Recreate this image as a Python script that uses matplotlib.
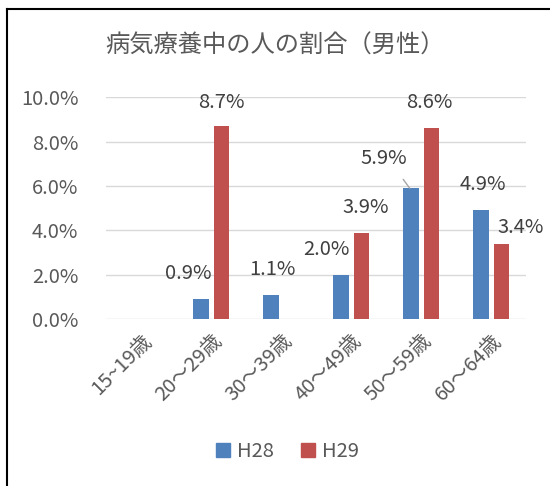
import matplotlib
matplotlib.use('Agg')
import matplotlib.pyplot as plt
import numpy as np
from matplotlib.lines import Line2D

plt.rcParams['font.family'] = ['Noto Sans CJK JP', 'DejaVu Sans']

title = '病気療養中の人の割合（男性）'
categories = ['15~19歳', '20～29歳', '30～39歳', '40～49歳', '50～59歳', '60～64歳']
h28 = [np.nan, 0.9, 1.1, 2.0, 5.9, 4.9]
h29 = [np.nan, 8.7, np.nan, 3.9, 8.6, 3.4]
series_names = ['H28', 'H29']
colors = ['#4F81BD', '#C0504D']

# label offsets (pixels) from each bar top, as Excel placed them
label_offsets = {
    ('H28', 1): (-13, 26), ('H28', 2): (1, 25), ('H28', 3): (-15, 25),
    ('H28', 4): (-26, 30), ('H28', 5): (2, 26),
    ('H29', 1): (0, 24), ('H29', 3): (4, 25), ('H29', 4): (-2, 26),
    ('H29', 5): (19, 16),
}

text_color = '#595959'
grid_color = '#D9D9D9'
fs = 14.5

fig = plt.figure(figsize=(5.5, 4.86), dpi=100)
ax = fig.add_axes([0.193, 0.343, 0.764, 0.457])

x = np.arange(len(categories))
w = 0.22
off = 0.145
for name, vals, c, sign in zip(series_names, [h28, h29], colors, [-1, 1]):
    bars = ax.bar(x + sign * off, vals, width=w, color=c, zorder=3)
    for i, v in enumerate(vals):
        if np.isnan(v):
            continue
        dx, dy = label_offsets[(name, i)]
        if (name, i) == ('H28', 4):
            ax.annotate(f'{v:.1f}%', xy=(x[i] + sign * off - 0.02, v),
                        xytext=(dx, dy), textcoords='offset pixels',
                        ha='center', va='center', fontsize=fs, color='#404040',
                        arrowprops=dict(arrowstyle='-', color='#A6A6A6', lw=1,
                                        shrinkA=7, shrinkB=0,
                                        relpos=(0.75, 0.0)))
        else:
            ax.annotate(f'{v:.1f}%', xy=(x[i] + sign * off, v),
                        xytext=(dx, dy), textcoords='offset pixels',
                        ha='center', va='center', fontsize=fs, color='#404040')

ax.set_xlim(-0.5, len(categories) - 0.5)
ax.set_ylim(0, 10)
ax.set_yticks(np.arange(0, 10.1, 2))
ax.set_yticklabels([f'{t:.1f}%' for t in np.arange(0, 10.1, 2)])
ax.yaxis.grid(True, color=grid_color, lw=1, zorder=0)
ax.set_axisbelow(True)
for s in ax.spines.values():
    s.set_visible(False)
ax.tick_params(axis='both', length=0, colors=text_color, labelsize=fs)
ax.tick_params(axis='y', pad=20)
ax.set_xticks(x)
ax.set_xticklabels(categories, rotation=45, ha='right', rotation_mode='anchor')
ax.tick_params(axis='x', pad=8)

fig.text(0.5, 0.907, title, ha='center', va='center', fontsize=17.5, color=text_color)

handles = [Line2D([], [], marker='s', ls='', markersize=10, color=c) for c in colors]
fig.legend(handles, series_names, loc='center', bbox_to_anchor=(0.52, 0.07),
           ncol=2, frameon=False, fontsize=fs, labelcolor=text_color,
           handletextpad=0.2, columnspacing=1.2, handlelength=1)

# chart border (left and top visible in the crop)
fig.add_artist(Line2D([0.013, 0.013], [0, 0.982], color='black', lw=1.5,
                      transform=fig.transFigure))
fig.add_artist(Line2D([0.013, 1], [0.982, 0.982], color='black', lw=1.5,
                      transform=fig.transFigure))

fig.savefig('out.png', dpi=100)
